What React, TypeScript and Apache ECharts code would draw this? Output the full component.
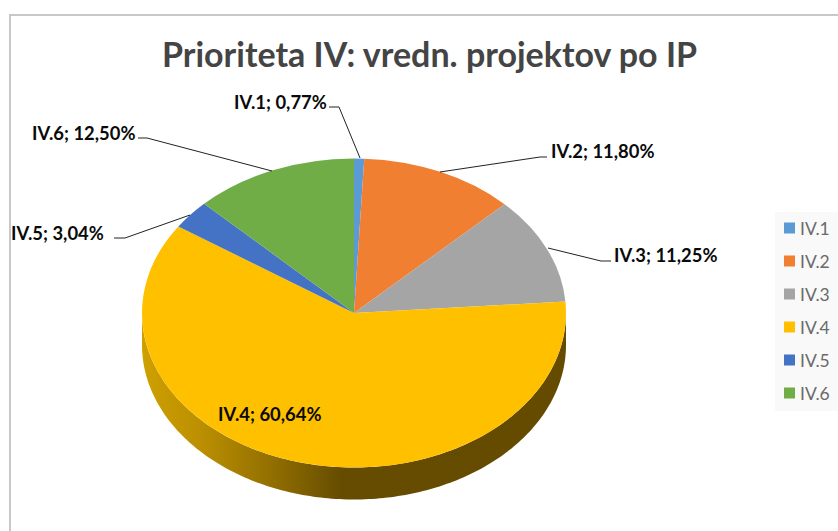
import React, { useEffect, useRef } from "react";
import * as echarts from "echarts";

const categories = ["IV.1", "IV.2", "IV.3", "IV.4", "IV.5", "IV.6"];
const shares = [0.77, 11.8, 11.25, 60.64, 3.04, 12.5];
const colors = ["#5B9BD5", "#F07F32", "#A5A5A5", "#FFC000", "#4472C4", "#70AD47"];
const titleText = "Prioriteta IV: vredn. projektov po IP";

const CX = 354, CY = 313, RX = 212, RY = 154.5, DEPTH = 32;
const total = shares.reduce((a, b) => a + b, 0);

const labelLayout = [
  { x: 234, y: 102, line: [[329, 107], [339, 107], [360, 158]] },
  { x: 551, y: 151, line: [[440, 172], [540, 157], [547, 157]] },
  { x: 614, y: 255, line: [[548, 248], [601, 261], [611, 261]] },
  { x: 218, y: 414, line: null },
  { x: 11, y: 233, line: [[114, 238], [125, 238], [190, 215]] },
  { x: 32, y: 133, line: [[138, 138], [147, 138], [272, 171]] },
];

const wallFill = {
  type: "linear", x: 0, y: 0, x2: 1, y2: 0,
  colorStops: [
    { offset: 0, color: "#CFA000" },
    { offset: 0.14, color: "#BB8F00" },
    { offset: 0.3, color: "#937000" },
    { offset: 0.47, color: "#664C00" },
    { offset: 1, color: "#654B00" },
  ],
};

function makeRender(index: number) {
  const before = shares.slice(0, index).reduce((a, b) => a + b, 0);
  const from = (before / total) * 360;
  const to = ((before + shares[index]) / total) * 360;
  return (_p: any, api: any) => {
    const children: any[] = [];
    const a0 = Math.max(from, 90), a1 = Math.min(to, 270);
    if (a1 > a0) {
      const upper: number[][] = [], lower: number[][] = [];
      for (let a = a0; a <= a1 + 0.001; a += 1) {
        const r = (a * Math.PI) / 180;
        const x = CX + RX * Math.sin(r), y = CY - RY * Math.cos(r);
        upper.push([x, y]);
        lower.unshift([x, y + DEPTH]);
      }
      children.push({ type: "polygon", shape: { points: [...upper, ...lower] }, style: { fill: wallFill } });
    }
    children.push({
      type: "sector", x: CX, y: CY, scaleY: RY / RX,
      shape: {
        cx: 0, cy: 0, r0: 0, r: RX, clockwise: true,
        startAngle: ((from - 90) * Math.PI) / 180,
        endAngle: ((to - 90) * Math.PI) / 180,
      },
      style: { fill: api.visual("color") },
    });
    return { type: "group", children };
  };
}

const pct = (v: number) => v.toFixed(2).replace(".", ",") + "%";

export default function App() {
  const ref = useRef<HTMLDivElement>(null);
  useEffect(() => {
    const chart = echarts.init(ref.current!, null, { renderer: "svg" });
    const graphic: any[] = [
      {
        type: "polyline", silent: true,
        shape: { points: [[10, 531], [10, 15], [838, 15]] },
        style: { fill: "none", stroke: "#C8C8C8", lineWidth: 2 },
      },
    ];
    categories.forEach((c, i) => {
      const l = labelLayout[i];
      if (l.line) {
        graphic.push({
          type: "polyline", silent: true, z: 10, shape: { points: l.line },
          style: { fill: "none", stroke: "#222222", lineWidth: 1 },
        });
      }
      graphic.push({
        type: "text", silent: true, z: 11, x: l.x, y: l.y,
        style: {
          text: `${c}; ${pct(shares[i])}`, fill: "#0A0A0A",
          font: "bold 18.4px Lato", textAlign: "left", textVerticalAlign: "middle",
        },
      });
    });
    chart.setOption({
      animation: false,
      backgroundColor: "#FFFFFF",
      title: {
        text: titleText, left: 157, top: 31,
        textStyle: { fontFamily: "Lato", fontWeight: "bold", fontSize: 34, color: "#444444" },
      },
      legend: {
        orient: "vertical", left: 775, top: 212, width: 61, height: 198,
        padding: [7, 8, 9, 9], backgroundColor: "#F9F9F9",
        itemWidth: 11, itemHeight: 11, itemGap: 15, icon: "rect",
        data: categories, selectedMode: false,
        textStyle: { fontFamily: "Lato", fontSize: 17.5, color: "#6A6A6A", lineHeight: 18 },
      },
      graphic,
      series: categories.map((c, i) => ({
        type: "custom", name: c, coordinateSystem: "none",
        itemStyle: { color: colors[i] },
        data: [shares[i]],
        renderItem: makeRender(i),
      })),
    });
    return () => chart.dispose();
  }, []);
  return <div ref={ref} style={{ position: "fixed", left: 0, top: 0, width: 838, height: 531 }} />;
}
